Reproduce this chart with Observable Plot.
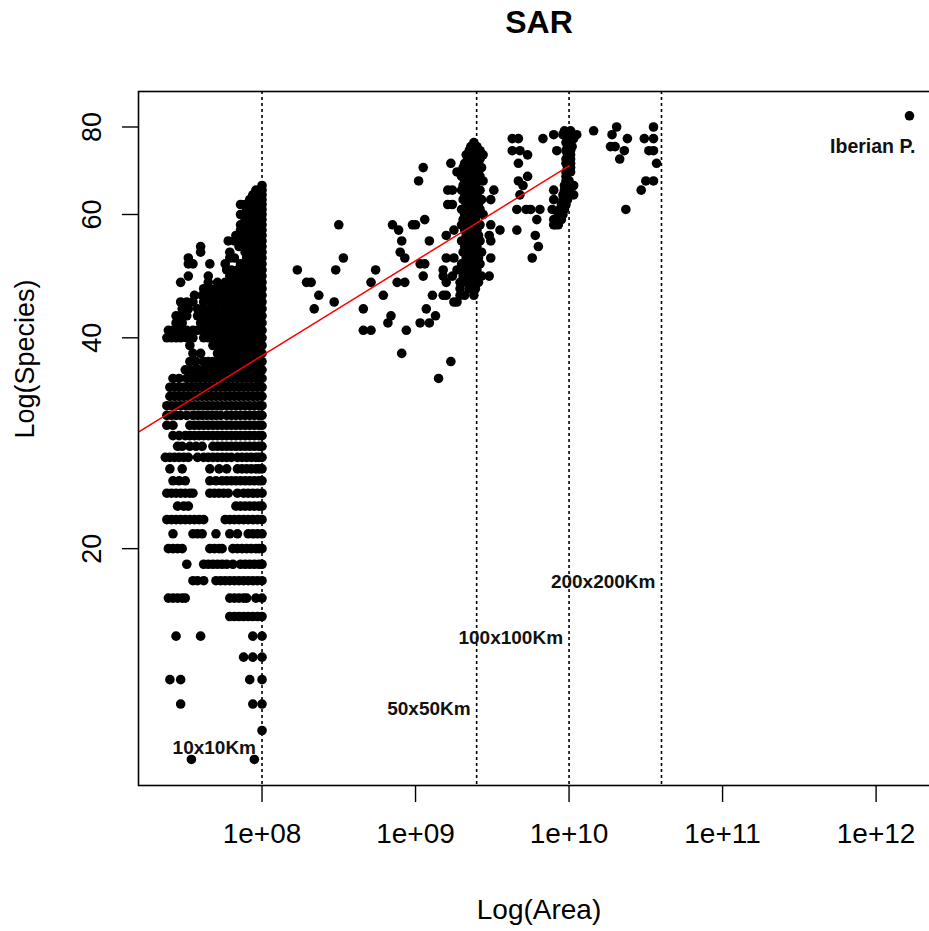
<!DOCTYPE html>
<html><head><meta charset="utf-8">
<script src="https://cdn.jsdelivr.net/npm/d3@7"></script>
<script src="https://cdn.jsdelivr.net/npm/@observablehq/plot@0.6"></script>
<style>html,body{margin:0;padding:0;overflow:hidden;background:#fff}#chart svg{max-width:none!important}</style>
</head><body><div id="chart"></div>
<script>
// ---- axis ticks ----
const xTicks = [1e8, 1e9, 1e10, 1e11, 1e12];
const xTickLabels = ["1e+08", "1e+09", "1e+10", "1e+11", "1e+12"];
const yTicks = [20, 40, 60, 80];

// ---- 10x10 km cells: species count per row, areas as hundredths of log10(m²) ----
const cell10Species = [10,11,12,13,14,15,16,17,18,19,20,21,22,23,24,25,26,27,28,29,30,31,32,33,34,35,36,37,38,39,40,41,42,43,44,45,46,47,48,49,50,51,52,53,54,55,56,57,58,59,60,61,62,63,64,65,66];
const cell10Area = [
 "754 795",
 "800",
 "747 794 800",
 "740 747 792 800",
 "788 794 800",
 "744 760 794 800",
 "779 782 785 788 791 794 797 800",
 "739 742 745 748 750 779 782 785 788 790 796 800",
 "755 758 762 770 773 776 779 782 785 788 791 794 797 800",
 "751 762 765 768 771 774 777 781 786 789 792 795 798 800",
 "739 742 745 748 766 769 772 774 781 784 787 790 793 796 798 800",
 "742 755 758 761 770 779 784 791 794 797 800",
 "738 741 744 747 750 753 756 759 762 776 779 782 785 788 791 794 797 800",
 "745 749 752 783 786 789 792 795 798 800",
 "738 741 744 747 750 753 755 766 769 772 775 778 784 788 791 794 797 800",
 "742 746 750 766 770 774 777 780 783 786 789 792 795 798 800",
 "740 748 766 772 777 784 787 790 793 796 798 800",
 "737 740 743 746 749 752 758 762 765 768 771 774 777 780 784 787 790 793 796 798 800",
 "745 748 753 757 761 768 771 774 777 780 783 786 789 792 795 798 800",
 "742 746 750 753 756 759 762 765 768 771 774 777 780 783 786 789 792 795 798 800",
 "738 742 753 756 759 762 765 768 771 774 777 780 783 786 789 792 795 798 800",
 "738 741 744 747 751 755 758 761 764 767 770 773 777 780 783 786 789 792 795 798 800",
 "738 741 744 747 750 753 756 759 762 765 768 771 774 777 780 783 786 789 792 795 798 800",
 "740 743 746 749 752 755 758 761 764 767 770 773 776 779 782 785 788 791 794 797 800",
 "740 743 746 749 752 755 758 761 764 767 770 773 776 779 782 785 788 791 794 797 800",
 "742 746 751 754 757 760 763 766 769 772 775 778 781 784 787 790 793 796 798 800",
 "750 753 756 759 762 765 768 771 774 777 780 783 786 789 792 795 798 800",
 "753 757 762 765 768 771 774 777 780 783 786 789 792 795 798 800",
 "755 760 771 774 777 780 783 786 789 792 795 798 800",
 "753 768 771 774 777 780 783 786 789 792 795 798 800",
 "738 741 744 747 751 755 762 765 768 771 774 777 780 783 786 789 792 795 798 800",
 "739 742 745 748 751 755 758 761 764 767 770 773 776 779 782 785 788 791 794 797 800",
 "744 748 760 763 766 769 772 775 778 781 784 787 790 793 796 798 800",
 "744 747 751 758 762 765 768 771 774 777 780 783 786 789 792 795 798 800",
 "748 752 758 762 766 770 775 778 781 784 787 790 793 796 798 800",
 "747 751 755 762 767 771 774 779 782 785 788 791 794 797 800",
 "756 761 764 767 770 773 776 779 782 785 788 791 794 797 800",
 "762 766 770 774 778 783 786 789 792 795 798 800",
 "747 765 771 776 779 782 785 788 791 794 797 800",
 "752 765 779 782 785 788 791 794 797 800",
 "777 780 784 786 789 792 795 798 800",
 "752 755 766 776 786 789 792 795 798 800",
 "752 779 782 790 793 796 798 800",
 "760 779 789 792 795 798 800",
 "760 785 789 792 795 798 800",
 "778 782 786 790 793 796 798 800",
 "783 786 789 792 795 798 800",
 "786 789 792 795 798 800",
 "786 789 792 795 798 800",
 "789 792 795 798 800",
 "786 789 792 795 798 800",
 "790 793 796 798 800",
 "786 789 792 795 798 800",
 "792 795 798 800",
 "794 797 800",
 "796 800",
 "800"
];

// ---- 50x50 km cells and scattered aggregates around them ----
const cell50Species = [76,75,74,73,72,71,70,69,68,67,66,65,64,63,62,61,60,59,58,57,56,55,54,53,52,51,50,49,48,47,46,45,44,43,42,41,38,37,35];
const cell50Area = [
 "938","936 940","935 939 942","933 937 941 944","934 938 942","923 932 936 940",
 "905 931 935 939 943","927 933 937 941","930 934 938 942","902 932 936 940 944",
 "931 935 939","921 924 930 934 938 942 951","932 936 940","931 935 939 943 949",
 "921 924 933 937 941","930 934 938 942","932 936 940 944","906 931 935 939",
 "850 885 898 900 930 934 938 942 949","889 925 932 936 940 955","920 933 937 941 948",
 "891 909 930 934 938 942 949","932 936 940","890 931 935 939 943",
 "853 893 920 925 933 937 941 949","903 906 930 934 938 942","823 848 874 918 927 932 936 940",
 "905 918 924 931 935 939 943 948","829 832 871 888 893 920 929 933 937 941","929 935 939",
 "837 879 911 918 920 929 932 938","847 925 927","834 866 907","884 913","882 903 909",
 "866 871 894","891","923","915"
];

// ---- 100x100 and 200x200 km cells ----
const cell100Species = [80,79,78,77,76,75,74,73,72,71,70,69,68,67,66,65,64,63,62,61,60,59,58,57,56,54,52];
const cell100Area = [
 "1031 1055","997 1001 1016","990 996 1000 1005 1028","963 967 983 999 1003 1038 1049 1055",
 "998 1001","999 1002 1027 1030","963 968 992 998 1001 1036 1052 1055","973 999 1001",
 "998 1001 1033","967 998 1001 1057","999 1001","998 1001","973 998","967 998 1000 1050 1055",
 "970 997 1000 1003","990 997 1000 1047","968 996 999 1003","990 996 999","995 998",
 "966 972 975 981 989 994 997 1037","993 996","979 990 992 995","990 991 993","966","978","980","976"
];

// ---- whole Iberian Peninsula ----
const iberiaArea = [1.65e12];
const iberiaSpecies = [83];

// ---- grid size reference lines and labels ----
const cellSizeLabels = ["10x10Km", "50x50Km", "100x100Km", "200x200Km"];
const cellSizeAreas = [1e8, 2.5e9, 1e10, 4e10];
const cellSizeLabelSpecies = [10.4, 11.8, 14.9, 17.9];
const iberiaLabel = ["Iberian P."];
const iberiaLabelArea = [9.5e11];
const iberiaLabelSpecies = [74.9];

// ---- fitted species-area line (endpoints) ----
const fitArea = [1e7, 1e10];
const fitSpecies = [27.6, 70.4];

// ---- build table ----
const points = [];
function addRows(species, areas) {
  species.forEach((s, i) => areas[i].trim().split(/\s+/).forEach(h => points.push({area: Math.pow(10, +h / 100), species: s})));
}
addRows(cell10Species, cell10Area);
addRows(cell50Species, cell50Area);
addRows(cell100Species, cell100Area);
iberiaArea.forEach((a, i) => points.push({area: a, species: iberiaSpecies[i]}));

const fit = fitArea.map((a, i) => ({area: a, species: fitSpecies[i]}));
const sizeLabels = cellSizeLabels.map((t, i) => ({t, area: cellSizeAreas[i], species: cellSizeLabelSpecies[i]}));
const ibLabel = iberiaLabel.map((t, i) => ({t, area: iberiaLabelArea[i], species: iberiaLabelSpecies[i]}));

const font = "Liberation Sans, Arial, Helvetica, sans-serif";

const chart = Plot.plot({
  width: 940, height: 931,
  marginLeft: 138, marginRight: 1, marginTop: 91, marginBottom: 146,
  x: {type: "log", domain: [Math.pow(10, 7.1954), Math.pow(10, 12.413)]},
  y: {type: "log", domain: [9.18, 89.9]},
  style: {fontFamily: font, background: "#fff", color: "black", maxWidth: "none"},
  marks: [
    Plot.ruleX(cellSizeAreas, {stroke: "black", strokeWidth: 1.6, strokeDasharray: "3,3"}),
    Plot.dot(points, {x: "area", y: "species", r: 4.8, fill: "black", stroke: "none"}),
    Plot.line(fit, {x: "area", y: "species", stroke: "red", strokeWidth: 1.5, clip: true}),
    Plot.text(sizeLabels, {x: "area", y: "species", text: "t", textAnchor: "end", dx: -6, fontWeight: "bold", fontSize: 19, fill: "#111"}),
    Plot.text(ibLabel, {x: "area", y: "species", text: "t", fontWeight: "bold", fontSize: 19.5, fill: "#111"}),
    Plot.frame({stroke: "black", strokeWidth: 1.6}),
    Plot.axisX(xTicks, {tickSize: 17, tickPadding: 21, tickFormat: d => xTickLabels[xTicks.indexOf(d)], fontSize: 28, label: null, stroke: "black", strokeWidth: 1.4, fill: "black"}),
    Plot.axisY(yTicks, {tickSize: 16, fill: "none", stroke: "black", strokeWidth: 1.4, label: null}),
    Plot.text(yTicks, {y: d => d, text: d => String(d), frameAnchor: "left", dx: -46, rotate: -90, fontSize: 27, lineAnchor: "middle", textAnchor: "middle"}),
    Plot.text(["SAR"], {text: d => d, frameAnchor: "top", dy: -69, fontSize: 32, fontWeight: "bold", lineAnchor: "middle"}),
    Plot.text(["Log(Area)"], {text: d => d, frameAnchor: "bottom", dy: 125, fontSize: 28, lineAnchor: "middle"}),
    Plot.text(["Log(Species)"], {text: d => d, frameAnchor: "left", dx: -113, rotate: -90, fontSize: 27, lineAnchor: "middle"})
  ]
});
document.getElementById("chart").appendChild(chart);
</script></body></html>
